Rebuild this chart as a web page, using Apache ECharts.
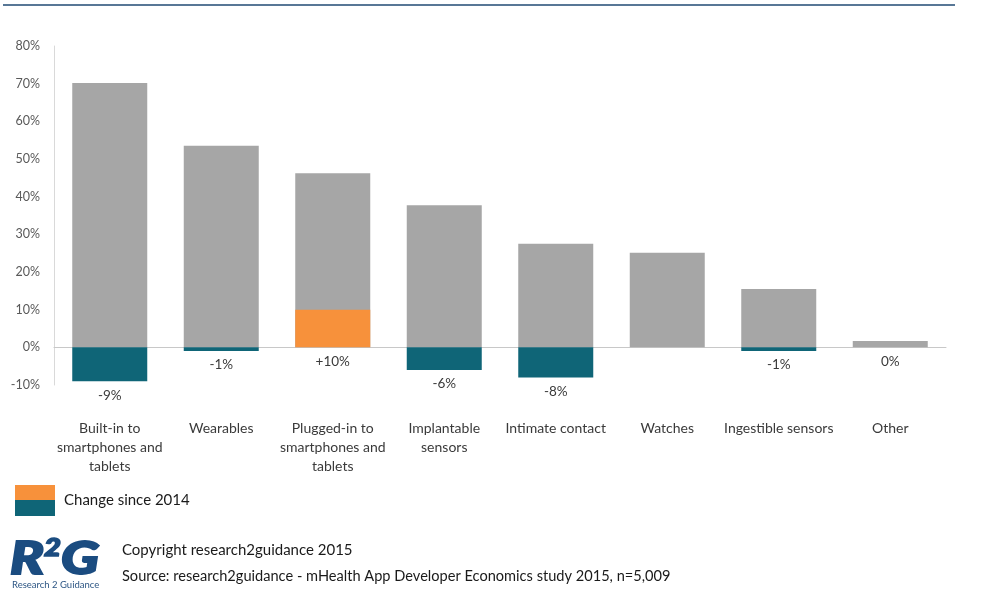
<!DOCTYPE html>
<html>
<head>
<meta charset="utf-8">
<script src="https://cdn.jsdelivr.net/npm/echarts@6/dist/echarts.min.js"></script>
<style>html,body{margin:0;padding:0;background:#fff;}#c{width:989px;height:592px;}</style>
</head>
<body>
<div id="c"></div>
<script>
var categories = ['Built-in to\nsmartphones and\ntablets', 'Wearables', 'Plugged-in to\nsmartphones and\ntablets', 'Implantable\nsensors', 'Intimate contact', 'Watches', 'Ingestible sensors', 'Other'];
var share2015 = [70.2, 53.5, 46.2, 37.7, 27.5, 25.1, 15.5, 1.7];
var change = [-9, -1, 10, -6, -8, null, -1, 0];
var changeLabels = ['-9%', '-1%', '+10%', '-6%', '-8%', '', '-1%', '0%'];
var yTicks = [-10, 0, 10, 20, 30, 40, 50, 60, 70, 80];

var FONT = 'Lato, "Open Sans", sans-serif';
var chart = echarts.init(document.getElementById('c'), null, {renderer: 'canvas'});
chart.setOption({
  animation: false,
  backgroundColor: '#ffffff',
  grid: {left: 54, right: 43, top: 46, bottom: 207},
  xAxis: {
    type: 'category',
    data: categories,
    axisLine: {onZero: true, lineStyle: {color: '#c8c8c8', width: 1}},
    axisTick: {show: false},
    axisLabel: {color: '#3a3a3a', fontFamily: FONT, fontSize: 14, lineHeight: 19, margin: 34, interval: 0}
  },
  yAxis: {
    type: 'value',
    min: yTicks[0], max: yTicks[yTicks.length - 1], interval: 10,
    axisLine: {show: true, lineStyle: {color: '#d9d9d9'}},
    axisTick: {show: false},
    splitLine: {show: false},
    axisLabel: {color: '#595959', fontFamily: FONT, fontSize: 12.5, margin: 14, formatter: function (v) { return v + '%'; }}
  },
  series: [
    {
      type: 'bar', name: '2015', data: share2015, barWidth: 75,
      itemStyle: {color: '#a6a6a6'}, z: 2
    },
    {
      type: 'bar', name: 'Change since 2014', barWidth: 75, barGap: '-100%', z: 3,
      data: change.map(function (v) {
        return {value: v, itemStyle: {color: v > 0 ? '#f7913b' : '#0f6577'}};
      }),
      label: {
        show: true, position: 'bottom', distance: 7,
        color: '#3a3a3a', fontFamily: FONT, fontSize: 13.5,
        formatter: function (p) { return changeLabels[p.dataIndex]; }
      }
    }
  ],
  graphic: [
    {type: 'line', shape: {x1: 3, y1: 5, x2: 955, y2: 5}, style: {stroke: '#587796', lineWidth: 2}},
    {type: 'rect', shape: {x: 15, y: 485, width: 40, height: 15}, style: {fill: '#f7913b'}},
    {type: 'rect', shape: {x: 15, y: 500, width: 40, height: 16}, style: {fill: '#0f6577'}},
    {type: 'text', x: 64, y: 500, style: {text: 'Change since 2014', fill: '#1a1a1a', font: '15px ' + FONT, verticalAlign: 'middle'}},
    {type: 'text', x: 10, y: 536, scaleX: 1.22, style: {
      text: '{r|R}{two|2}{r|G}',
      rich: {
        r: {fontFamily: FONT, fontSize: 46, fontWeight: 900, fontStyle: 'italic', fill: '#1b4c80', stroke: '#1b4c80', lineWidth: 2, verticalAlign: 'bottom'},
        two: {fontFamily: FONT, fontSize: 24, fontWeight: 900, fontStyle: 'italic', fill: '#1b4c80', stroke: '#1b4c80', lineWidth: 1.5, verticalAlign: 'top', padding: [0, 0, 18, 0]}
      }
    }},
    {type: 'text', x: 12, y: 585, style: {text: 'Research 2 Guidance', fill: '#2d5684', font: '9.5px ' + FONT, verticalAlign: 'middle'}},
    {type: 'text', x: 122, y: 550, style: {text: 'Copyright research2guidance 2015', fill: '#1a1a1a', font: '15px ' + FONT, verticalAlign: 'middle'}},
    {type: 'text', x: 122, y: 576, style: {text: 'Source: research2guidance - mHealth App Developer Economics study 2015, n=5,009', fill: '#1a1a1a', font: '14.6px ' + FONT, verticalAlign: 'middle'}}
  ]
});
</script>
</body>
</html>
